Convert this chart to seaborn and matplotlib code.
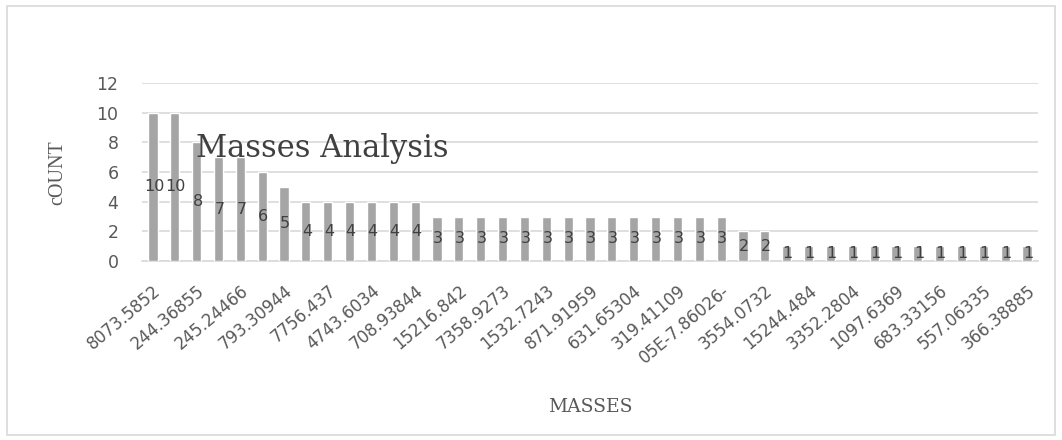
import matplotlib
matplotlib.use("Agg")
import matplotlib.pyplot as plt
import seaborn as sns
import pandas as pd
from matplotlib.patches import Rectangle

# Mass values (as category labels) and how often each occurs
masses = [
    "8073.5852", "m01", "244.36855", "m03", "245.24466", "m05", "793.30944", "m07",
    "7756.437", "m09", "4743.6034", "m11", "708.93844", "m13", "15216.842", "m15",
    "7358.9273", "m17", "1532.7243", "m19", "871.91959", "m21", "631.65304", "m23",
    "319.41109", "m25", "05E-7.86026-", "m27", "3554.0732", "m29", "15244.484", "m31",
    "3352.2804", "m33", "1097.6369", "m35", "683.33156", "m37", "557.06335", "m39",
    "366.38885",
]
counts = [10, 10, 8, 7, 7, 6, 5,
          4, 4, 4, 4, 4, 4,
          3, 3, 3, 3, 3, 3, 3, 3, 3, 3, 3, 3, 3, 3,
          2, 2,
          1, 1, 1, 1, 1, 1, 1, 1, 1, 1, 1, 1]
# only every other mass is printed along the axis
shown_labels = [m if i % 2 == 0 else "" for i, m in enumerate(masses)]

df = pd.DataFrame({"mass": masses, "count": counts})

sns.set_style("white")
plt.rcParams["font.family"] = ["DejaVu Sans"]

fig = plt.figure(figsize=(10.62, 4.40), dpi=100)
ax = fig.add_axes([142 / 1062, 179 / 440, 896 / 1062, 178 / 440])

sns.barplot(data=df, x="mass", y="count", color="#a5a5a5", saturation=1,
            width=0.42, ax=ax, zorder=3)

ax.set_ylim(0, 12)
ax.set_yticks(range(0, 13, 2))
ax.yaxis.grid(True, color="#d9d9d9", linewidth=1.2, zorder=0)
ax.set_axisbelow(True)
for side in ["top", "right", "left"]:
    ax.spines[side].set_visible(False)
ax.spines["bottom"].set_color("#d9d9d9")
ax.spines["bottom"].set_linewidth(1.2)
ax.tick_params(axis="both", length=0, colors="#595959")
ax.tick_params(axis="y", labelsize=12.5, pad=17)

ax.set_xticks(range(len(masses)))
ax.set_xticklabels(shown_labels, rotation=40, ha="right",
                   rotation_mode="anchor", fontsize=12, color="#595959")
ax.tick_params(axis="x", pad=15)

# value labels centred inside each bar
for i, c in enumerate(counts):
    ax.text(i + 0.05, c / 2, str(c), ha="center", va="center",
            fontsize=11.5, color="#404040", zorder=5)

ax.set_xlabel("MASSES", family=["DejaVu Serif"], fontsize=13.5, color="#595959")
ax.xaxis.set_label_coords(0.5, (261 - 407) / 178)
ax.xaxis.label.set_va("center")
ax.set_ylabel("cOUNT", family=["Liberation Serif"], fontsize=14.5, color="#595959")
ax.yaxis.set_label_coords((58 - 142) / 896, (261 - 173) / 178)
ax.yaxis.label.set_va("center")

fig.text(196 / 1062, 1 - 149 / 440, "Masses Analysis", family=["DejaVu Serif"],
         fontsize=22, color="#404040", ha="left", va="center", zorder=6)

# light frame around the whole chart area
fig.patches.append(Rectangle((7 / 1062, 5 / 440), 1048 / 1062, 429 / 440,
                             transform=fig.transFigure, fill=False,
                             edgecolor="#d9d9d9", linewidth=1.2))

fig.savefig("out.png", dpi=100, facecolor="white")
